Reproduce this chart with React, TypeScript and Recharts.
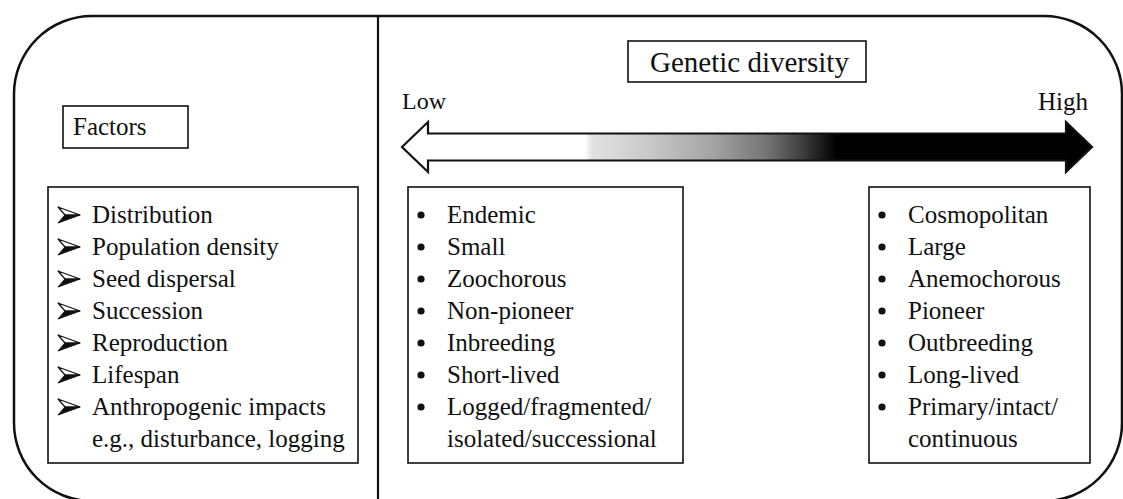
import React from "react";
import { ComposedChart, XAxis, YAxis, Scatter, ReferenceArea, ReferenceLine, ReferenceDot } from "recharts";

// list contents of the three boxes ("\n" = wrapped continuation line, no bullet)
const factorItems = [
  "Distribution",
  "Population density",
  "Seed dispersal",
  "Succession",
  "Reproduction",
  "Lifespan",
  "Anthropogenic impacts\ne.g., disturbance, logging",
];
const lowItems = [
  "Endemic",
  "Small",
  "Zoochorous",
  "Non-pioneer",
  "Inbreeding",
  "Short-lived",
  "Logged/fragmented/\nisolated/successional",
];
const highItems = [
  "Cosmopolitan",
  "Large",
  "Anemochorous",
  "Pioneer",
  "Outbreeding",
  "Long-lived",
  "Primary/intact/\ncontinuous",
];
const titleLabel = "Genetic diversity";
const factorsLabel = "Factors";
const scaleLabels = ["Low", "High"];

const W = 1123;
const H = 499;
const FONT = "'Liberation Serif', 'Times New Roman', serif";
const INK = "#111";

// row axis: row i sits on baseline FIRST_BASELINE + i * ROW_GAP (pixels)
const FIRST_BASELINE = 223;
const ROW_GAP = 32;
const rowLo = -FIRST_BASELINE / ROW_GAP;
const rowHi = rowLo + H / ROW_GAP;

const toRows = (items: string[], x: number, bullet: string) => {
  const rows: any[] = [];
  let row = 0;
  items.forEach((item) => {
    item.split("\n").forEach((line, j) => {
      rows.push({ x, row, text: line, bullet: j === 0 ? bullet : "none" });
      row += 1;
    });
  });
  return rows;
};

const factorRows = toRows(factorItems, 92, "arrow");
const lowRows = toRows(lowItems, 447, "dot");
const highRows = toRows(highItems, 908, "dot");

const ListRow = (props: any) => {
  const { cx, cy, payload } = props;
  if (cx == null || cy == null) return null;
  let mark = null;
  if (payload.bullet === "dot") {
    mark = <circle cx={cx - 26} cy={cy - 8} r={3.6} fill={INK} />;
  } else if (payload.bullet === "arrow") {
    const bx = cx - 34;
    const by = cy - 8;
    mark = (
      <g>
        <path d={`M${bx},${by - 8} L${bx + 22},${by} L${bx + 7},${by} Z`} fill="#fff" stroke={INK} strokeWidth={1.2} strokeLinejoin="round" />
        <path d={`M${bx + 7},${by} L${bx + 22},${by} L${bx},${by + 8} Z`} fill={INK} stroke={INK} strokeWidth={1} strokeLinejoin="round" />
      </g>
    );
  }
  return (
    <g>
      {mark}
      <text x={cx} y={cy} fontFamily={FONT} fontSize={25} fill={INK}>
        {payload.text}
      </text>
    </g>
  );
};

const Frame = ({ x, y, width, height }: any) => (
  <rect x={x} y={y} width={width} height={height} rx={78} ry={78} fill="none" stroke={INK} strokeWidth={2.5} />
);

const Box = ({ x, y, width, height }: any) => (
  <rect x={x} y={y} width={width} height={height} fill="#fff" stroke={INK} strokeWidth={1.6} />
);

const DiversityArrow = ({ x, y, width, height }: any) => {
  const head = 26;
  const mid = y + height / 2;
  const half = 13.5;
  const d = [
    `M${x},${mid}`,
    `L${x + head},${y}`,
    `L${x + head},${mid - half}`,
    `L${x + width - head},${mid - half}`,
    `L${x + width - head},${y}`,
    `L${x + width},${mid}`,
    `L${x + width - head},${y + height}`,
    `L${x + width - head},${mid + half}`,
    `L${x + head},${mid + half}`,
    `L${x + head},${y + height}`,
    "Z",
  ].join(" ");
  return (
    <g>
      <defs>
        <linearGradient id="diversityGradient" x1="0" y1="0" x2="1" y2="0">
          <stop offset="0%" stopColor="#fff" />
          <stop offset="26.5%" stopColor="#fff" />
          <stop offset="27.5%" stopColor="#e2e2e2" />
          <stop offset="36%" stopColor="#c8c8c8" />
          <stop offset="45%" stopColor="#a4a4a4" />
          <stop offset="53%" stopColor="#737373" />
          <stop offset="58%" stopColor="#3e3e3e" />
          <stop offset="63%" stopColor="#000" />
          <stop offset="100%" stopColor="#000" />
        </linearGradient>
      </defs>
      <path d={d} fill="url(#diversityGradient)" stroke={INK} strokeWidth={2.2} strokeLinejoin="miter" />
    </g>
  );
};

const textShape = (value: string, size: number) => (p: any) =>
  (
    <text x={p.cx} y={p.cy} fontFamily={FONT} fontSize={size} fill={INK}>
      {value}
    </text>
  );

export default function App() {
  return (
    <div style={{ position: "absolute", left: 0, top: 0, background: "#fff" }}>
      <ComposedChart width={W} height={H} margin={{ top: 0, right: 0, bottom: 0, left: 0 }}>
        <XAxis type="number" dataKey="x" domain={[0, W]} hide allowDataOverflow />
        <YAxis yAxisId="px" type="number" domain={[0, H]} reversed hide allowDataOverflow />
        <YAxis yAxisId="rows" type="number" dataKey="row" domain={[rowLo, rowHi]} reversed hide allowDataOverflow />

        {/* outer rounded frame and divider */}
        <ReferenceArea yAxisId="px" x1={14} x2={1122} y1={16} y2={501} ifOverflow="visible" shape={<Frame />} />
        <ReferenceLine
          yAxisId="px"
          segment={[{ x: 378, y: 16 }, { x: 378, y: 505 }]}
          stroke={INK}
          strokeWidth={2.2}
          ifOverflow="visible"
        />

        {/* boxes */}
        <ReferenceArea yAxisId="px" x1={63} x2={188} y1={106} y2={148} ifOverflow="visible" shape={<Box />} />
        <ReferenceArea yAxisId="px" x1={628} x2={866} y1={41} y2={82} ifOverflow="visible" shape={<Box />} />
        <ReferenceArea yAxisId="px" x1={48} x2={358} y1={187} y2={463} ifOverflow="visible" shape={<Box />} />
        <ReferenceArea yAxisId="px" x1={408} x2={683} y1={187} y2={463} ifOverflow="visible" shape={<Box />} />
        <ReferenceArea yAxisId="px" x1={869} x2={1090} y1={187} y2={463} ifOverflow="visible" shape={<Box />} />

        {/* low -> high arrow */}
        <ReferenceArea yAxisId="px" x1={402} x2={1092} y1={122} y2={172} ifOverflow="visible" shape={<DiversityArrow />} />

        {/* labels */}
        <ReferenceDot yAxisId="px" x={73} y={135} ifOverflow="visible" shape={textShape(factorsLabel, 25)} />
        <ReferenceDot yAxisId="px" x={650} y={72} ifOverflow="visible" shape={textShape(titleLabel, 29)} />
        <ReferenceDot yAxisId="px" x={402} y={109} ifOverflow="visible" shape={textShape(scaleLabels[0], 24)} />
        <ReferenceDot yAxisId="px" x={1038} y={110} ifOverflow="visible" shape={textShape(scaleLabels[1], 25)} />

        {/* list rows */}
        <Scatter yAxisId="rows" data={factorRows} dataKey="row" shape={<ListRow />} isAnimationActive={false} />
        <Scatter yAxisId="rows" data={lowRows} dataKey="row" shape={<ListRow />} isAnimationActive={false} />
        <Scatter yAxisId="rows" data={highRows} dataKey="row" shape={<ListRow />} isAnimationActive={false} />
      </ComposedChart>
    </div>
  );
}
